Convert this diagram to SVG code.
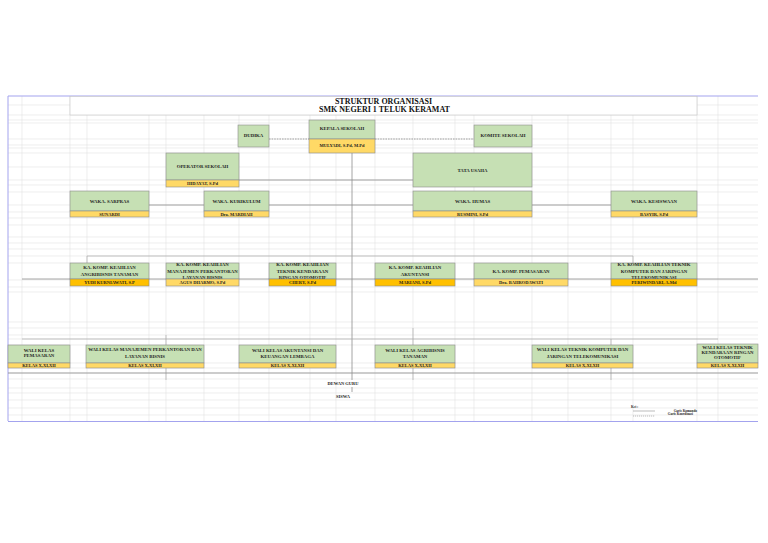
<svg xmlns="http://www.w3.org/2000/svg" width="768" height="543" viewBox="0 0 768 543">
<defs>
<style>
.grid{fill:none;stroke:#e2e2e2;stroke-width:0.6}
.conn{fill:none;stroke:#8e8e8e;stroke-width:0.8}
.conn2{fill:none;stroke:#ababab;stroke-width:0.7}
.dash{stroke-dasharray:1.6 1}
.g{fill:#c6e0b4;stroke:#8a8a8a;stroke-width:0.6}
.y{fill:#ffd966;stroke:#8a8a8a;stroke-width:0.6}
.o{fill:#ffc000;stroke:#8a8a8a;stroke-width:0.6}
text{font-family:"Liberation Serif","Times New Roman",serif;font-weight:bold;fill:#1e1e1e;text-anchor:middle}
.t{font-size:4.8px}
.ts{font-size:4.5px}
.title{font-size:8px;fill:#111}
.leg{font-size:3.4px}
</style>
<clipPath id="c2"><rect x="166" y="263" width="73" height="23"/></clipPath>
<clipPath id="c3"><rect x="269" y="263" width="67" height="23"/></clipPath>
<clipPath id="c6"><rect x="611" y="263" width="86" height="23"/></clipPath>
<clipPath id="w6"><rect x="697" y="344" width="61" height="24"/></clipPath>
</defs>
<rect width="768" height="543" fill="#ffffff"/>
<g id="grid">
<path class="grid" d="M22 96V421M70 96V421M87 96V421M149 96V421M166 96V421M204 96V421M239 96V421M269 96V421M310 96V421M336 96V421M375 96V421M413 96V421M455 96V421M474 96V421M532 96V421M568 96V421M611 96V421M633 96V421M697 96V421M718 96V421"/>
<path class="grid" d="M8 105H758M8 115H758M8 120H758M8 123H758M8 139H758M8 145H758M8 148H758M8 153H758M8 167H758M8 180H758M8 185H758M8 192H758M8 205H758M8 212H758M8 218H758M8 225H758M8 237H758M8 243H758M8 249H758M8 256H758M8 263H758M8 280H758M8 287H758M8 292H758M8 322H758M8 328H758M8 335H758M8 339H758M8 345H758M8 363H758M8 368H758M8 373H758M8 379H758M8 388H758M8 393H758M8 400H758M8 408H758M8 415H758"/>
</g>
<g id="frame">
<path d="M8 96H758M8 96V421M8 421.5H758" fill="none" stroke="#a3a3ee" stroke-width="1"/>
</g>
<g id="title">
<rect x="70" y="96.5" width="627" height="18.5" fill="#ffffff" stroke="#c4c4c4" stroke-width="0.6"/>
<text class="title" x="383.5" y="104">STRUKTUR ORGANISASI</text>
<text class="title" x="384.5" y="112">SMK NEGERI 1 TELUK KERAMAT</text>
</g>
<g id="connectors">
<path class="conn" d="M352 153V380M352 387V392"/>
<path class="conn dash" d="M269 139H309M375 139H474"/>
<path class="conn" d="M239 180H413"/>
<path class="conn" d="M149 205H611"/>
<path class="conn2" d="M87 256H633M87 256V263M633 256V263"/>
<path class="conn" d="M22 279H758"/>
<path class="conn2" d="M22 339H718M166 335V380M413 328V380M611 339V380"/>
<path class="conn" d="M8 373H758"/>
</g>
<g id="dudika">
<rect class="g" x="238" y="125" width="31" height="22"/>
<text class="t" x="253.5" y="137.4">DUDIKA</text>
</g>
<g id="kepala-sekolah">
<rect class="g" x="309" y="120" width="66" height="19"/>
<rect class="y" x="309" y="139" width="66" height="14"/>
<text class="t" x="342" y="129.8">KEPALA SEKOLAH</text>
<text class="ts" x="342" y="146.6">MULYADI, S.Pd, M.Pd</text>
</g>
<g id="komite-sekolah">
<rect class="g" x="474" y="125" width="58" height="22"/>
<text class="t" x="503" y="137.4">KOMITE SEKOLAH</text>
</g>
<g id="operator-sekolah">
<rect class="g" x="166" y="153" width="73" height="27"/>
<rect class="y" x="166" y="180" width="73" height="7"/>
<text class="t" x="202.5" y="167.7">OPERATOR SEKOLAH</text>
<text class="ts" x="202.5" y="185.1">HIDAYAT, S.Pd</text>
</g>
<g id="tata-usaha">
<rect class="g" x="413" y="153" width="119" height="34"/>
<text class="t" x="472.5" y="171.7">TATA USAHA</text>
</g>
<g id="waka-sarpras">
<rect class="g" x="70" y="191" width="79" height="20"/>
<rect class="y" x="70" y="211" width="79" height="6"/>
<text class="t" x="109.5" y="203.2">WAKA. SARPRAS</text>
<text class="ts" x="109.5" y="215.6">SUNARDI</text>
</g>
<g id="waka-kurikulum">
<rect class="g" x="204" y="191" width="65" height="20"/>
<rect class="y" x="204" y="211" width="65" height="6"/>
<text class="t" x="236.5" y="203.2">WAKA. KURIKULUM</text>
<text class="ts" x="236.5" y="215.6">Dra. MARDIAH</text>
</g>
<g id="waka-humas">
<rect class="g" x="413" y="191" width="119" height="20"/>
<rect class="y" x="413" y="211" width="119" height="6"/>
<text class="t" x="472.5" y="203.2">WAKA. HUMAS</text>
<text class="ts" x="472.5" y="215.6">RUSMINI, S.Pd</text>
</g>
<g id="waka-kesiswaan">
<rect class="g" x="611" y="191" width="86" height="20"/>
<rect class="y" x="611" y="211" width="86" height="6"/>
<text class="t" x="654" y="203.2">WAKA. KESISWAAN</text>
<text class="ts" x="654" y="215.6">BASYIR, S.Pd</text>
</g>
<g id="kakomp-agribisnis">
<rect class="g" x="70" y="263" width="79" height="16"/>
<rect class="o" x="70" y="279" width="79" height="7"/>
<text class="t" x="109.5" y="269">KA. KOMP. KEAHLIAN</text>
<text class="t" x="109.5" y="275.7">ANGRIBISNIS TANAMAN</text>
<text class="ts" x="109.5" y="284.2">YUDI KURNIAWATI, S.P</text>
</g>
<g id="kakomp-manajemen">
<rect class="g" x="166" y="263" width="73" height="16"/>
<g clip-path="url(#c2)">
<text class="t" x="202.5" y="266">KA. KOMP. KEAHLIAN</text>
<text class="t" x="202.5" y="272.7">MANAJEMEN PERKANTORAN</text>
<text class="t" x="202.5" y="279.3">LAYANAN BISNIS</text>
</g>
<rect class="y" x="166" y="279" width="73" height="7"/>
<text class="ts" x="202.5" y="284.2">AGUS DHARMO, S.Pd</text>
</g>
<g id="kakomp-otomotif">
<rect class="g" x="269" y="263" width="67" height="16"/>
<g clip-path="url(#c3)">
<text class="t" x="302.5" y="266">KA. KOMP. KEAHLIAN</text>
<text class="t" x="302.5" y="272.7">TEKNIK KENDARAAN</text>
<text class="t" x="302.5" y="279.3">RINGAN OTOMOTIF</text>
</g>
<rect class="o" x="269" y="279" width="67" height="7"/>
<text class="ts" x="302.5" y="284.2">CHERY, S.Pd</text>
</g>
<g id="kakomp-akuntansi">
<rect class="g" x="375" y="263" width="80" height="16"/>
<rect class="o" x="375" y="279" width="80" height="7"/>
<text class="t" x="415" y="269.4">KA. KOMP. KEAHLIAN</text>
<text class="t" x="415" y="275.8">AKUNTANSI</text>
<text class="ts" x="415" y="284.2">MARIANI, S.Pd</text>
</g>
<g id="kakomp-pemasaran">
<rect class="g" x="474" y="263" width="94" height="16"/>
<rect class="y" x="474" y="279" width="94" height="7"/>
<text class="t" x="521" y="272.7">KA. KOMP. PEMASARAN</text>
<text class="ts" x="521" y="284.2">Dra. BAHRODAWATI</text>
</g>
<g id="kakomp-tkj">
<rect class="g" x="611" y="263" width="86" height="16"/>
<g clip-path="url(#c6)">
<text class="t" x="654" y="266">KA. KOMP. KEAHLIAN TEKNIK</text>
<text class="t" x="654" y="272.7">KOMPUTER DAN JARINGAN</text>
<text class="t" x="654" y="278.6">TELEKOMUNIKASI</text>
</g>
<rect class="o" x="611" y="279" width="86" height="7"/>
<text class="ts" x="654" y="284.2">PERIWINDARI, A.Md</text>
</g>
<g id="wali-pemasaran">
<rect class="g" x="8" y="345" width="62" height="18"/>
<rect class="y" x="8" y="363" width="62" height="5"/>
<text class="t" x="39" y="351.7">WALI KELAS</text>
<text class="t" x="39" y="357.4">PEMASARAN</text>
<text class="ts" x="39" y="366.9">KELAS X,XI,XII</text>
</g>
<g id="wali-manajemen">
<rect class="g" x="86" y="345" width="118" height="18"/>
<rect class="y" x="86" y="363" width="118" height="5"/>
<text class="t" x="145" y="350.7">WALI KELAS MANAJEMEN PERKANTORAN DAN</text>
<text class="t" x="145" y="357.7">LAYANAN BISNIS</text>
<text class="ts" x="145" y="366.9">KELAS X,XI,XII</text>
</g>
<g id="wali-akuntansi">
<rect class="g" x="239" y="345" width="97" height="18"/>
<rect class="y" x="239" y="363" width="97" height="5"/>
<text class="t" x="287.5" y="351.7">WALI KELAS AKUNTANSI DAN</text>
<text class="t" x="287.5" y="357.7">KEUANGAN LEMBAGA</text>
<text class="ts" x="287.5" y="366.9">KELAS X,XI,XII</text>
</g>
<g id="wali-agribisnis">
<rect class="g" x="375" y="345" width="80" height="18"/>
<rect class="y" x="375" y="363" width="80" height="5"/>
<text class="t" x="415" y="351.7">WALI KELAS AGRIBISNIS</text>
<text class="t" x="415" y="357.7">TANAMAN</text>
<text class="ts" x="415" y="366.9">KELAS X,XI,XII</text>
</g>
<g id="wali-tkj">
<rect class="g" x="532" y="345" width="101" height="18"/>
<rect class="y" x="532" y="363" width="101" height="5"/>
<text class="t" x="582.5" y="351">WALI KELAS TEKNIK KOMPUTER DAN</text>
<text class="t" x="582.5" y="357.7">JARINGAN TELEKOMUNIKASI</text>
<text class="ts" x="582.5" y="366.9">KELAS X,XI,XII</text>
</g>
<g id="wali-otomotif">
<rect class="g" x="697" y="344" width="61" height="19"/>
<g clip-path="url(#w6)">
<text class="t" x="727.5" y="349.4">WALI KELAS TEKNIK</text>
<text class="t" x="727.5" y="354.4">KENDARAAN RINGAN</text>
<text class="t" x="727.5" y="359.4">OTOMOTIF</text>
</g>
<rect class="y" x="697" y="363" width="61" height="5"/>
<text class="ts" x="727.5" y="366.9">KELAS X,XI,XII</text>
</g>
<g id="dewan-guru">
<text class="ts" x="343" y="384.8">DEWAN GURU</text>
</g>
<g id="siswa">
<text class="ts" x="343" y="398.3">SISWA</text>
</g>
<g id="legend">
<text class="leg" x="631" y="407.6" style="text-anchor:start">Ket :</text>
<path d="M633 411H655" stroke="#8e8e8e" stroke-width="0.6"/>
<path d="M633 416H655" stroke="#8e8e8e" stroke-width="0.6" stroke-dasharray="1.2 0.8"/>
<text class="leg" x="697" y="411.8" style="text-anchor:end">Garis Komando</text>
<text class="leg" x="693" y="415.2" style="text-anchor:end">Garis Koordinasi</text>
</g>
</svg>
